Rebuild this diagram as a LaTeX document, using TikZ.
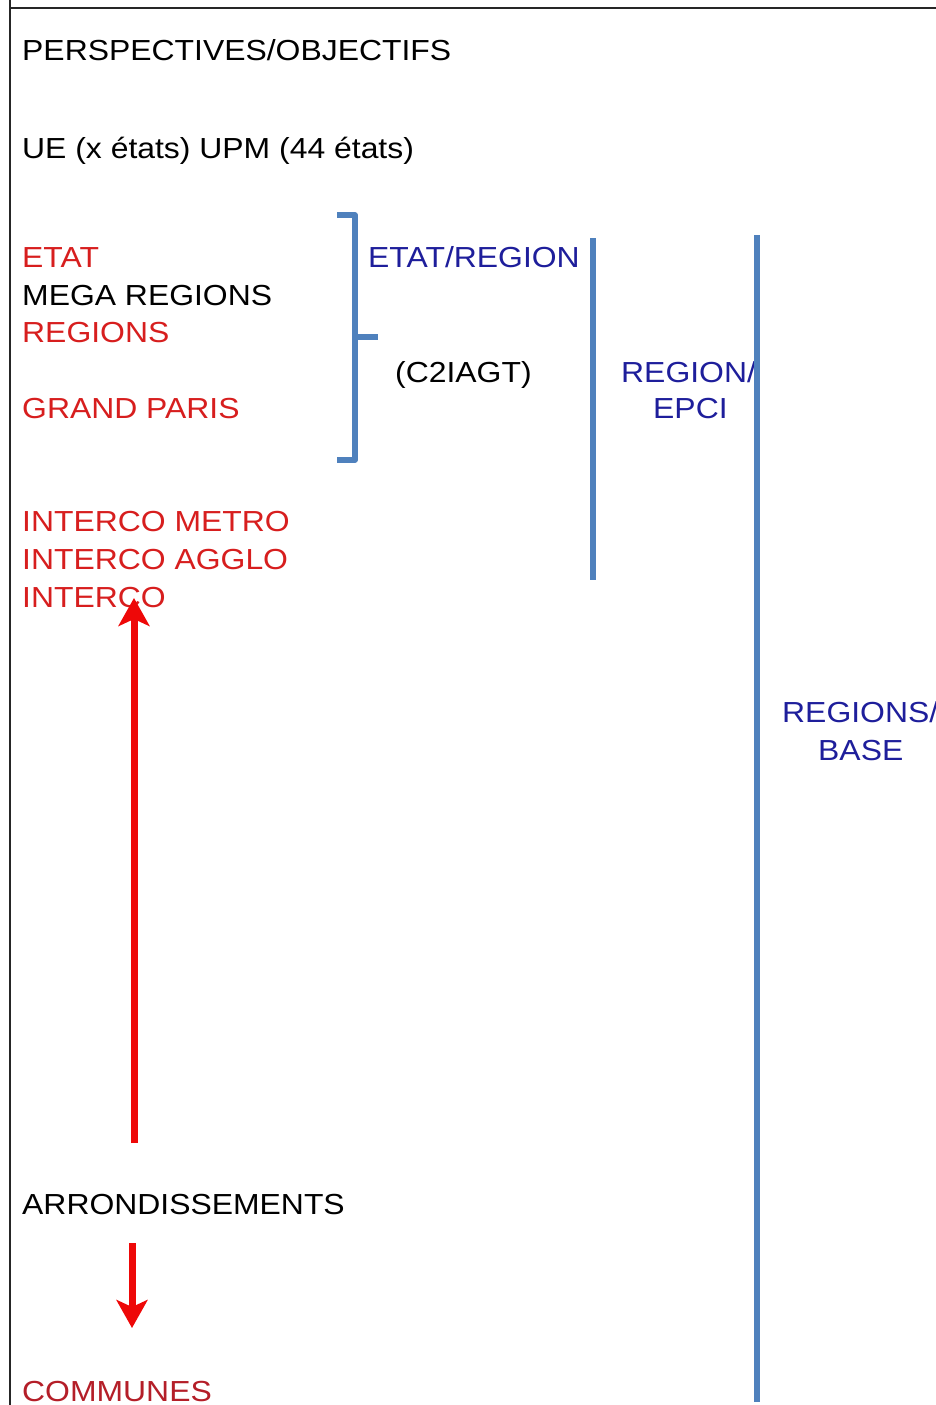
\documentclass[tikz,border=0pt]{standalone}
\usepackage{fontspec}
\setmainfont[FakeStretch=1.10]{Liberation Sans}
\usetikzlibrary{arrows.meta}
\definecolor{txtred}{RGB}{215,30,30}
\definecolor{darkred}{RGB}{180,30,40}
\definecolor{navy}{RGB}{30,30,155}
\definecolor{steel}{RGB}{79,129,189}
\definecolor{arrred}{RGB}{238,8,8}
\tikzset{
  lbl/.style={anchor=base west, inner sep=0pt, font=\fontsize{29}{34}\selectfont},
  bar/.style={draw=steel, line width=5.5pt},
  redarrow/.style={draw=arrred, line width=7pt, -{Stealth[length=28pt,width=31pt,inset=7pt]}},
  frame/.style={draw=black!85, line width=1.8pt}
}
\begin{document}
\begin{tikzpicture}[x=1pt,y=-1pt]
\useasboundingbox (0,0) rectangle (936,1405);
\clip (0,0) rectangle (936,1405);
% frame
\coordinate (ftl) at (10,8);
\coordinate (ftr) at (940,8);
\coordinate (fbl) at (10,1410);
\coordinate (ftop) at (10,-5);
\draw[frame] (ftr) -- (ftl);
\draw[frame, line width=1.4pt] (ftop) -- (fbl);
% left texts
\node[lbl] (persp) at (22,60) {PERSPECTIVES/OBJECTIFS};
\node[lbl] (ue) at (22,158) {UE (x états) UPM (44 états)};
\node[lbl, text=txtred] (etat) at (22,267) {ETAT};
\node[lbl] (mega) at (22,305) {MEGA REGIONS};
\node[lbl, text=txtred] (regions) at (22,342) {REGIONS};
\node[lbl, text=txtred] (gp) at (22,418) {GRAND PARIS};
\node[lbl, text=txtred] (imetro) at (22,531) {INTERCO METRO};
\node[lbl, text=txtred] (iagglo) at (22,569) {INTERCO AGGLO};
\node[lbl, text=txtred] (interco) at (22,607) {INTERCO};
\node[lbl] (arr) at (22,1214) {ARRONDISSEMENTS};
\node[lbl, text=darkred] (communes) at (22,1401) {COMMUNES};
% middle texts
\node[lbl, text=navy] (etatreg) at (368,267) {ETAT/REGION};
\node[lbl] (c2) at (395,382) {(C2IAGT)};
\node[lbl, text=navy] (regepci) at (621,382) {REGION/};
\node[lbl, text=navy] (epci) at (653,418) {EPCI};
\node[lbl, text=navy] (regbase) at (782,722) {REGIONS/};
\node[lbl, text=navy] (base) at (818,760) {BASE};
% bracket
\coordinate (bt0) at (337,215);
\coordinate (bt1) at (355,215);
\coordinate (bb1) at (355,460);
\coordinate (bb0) at (337,460);
\coordinate (bm0) at (355,337);
\coordinate (bm1) at (378,337);
\draw[bar, line join=round] (bt0) -- (bt1) -- (bb1) -- (bb0);
\draw[bar] (bm0) -- (bm1);
% vertical bars
\coordinate (v1t) at (593,238);
\coordinate (v1b) at (593,580);
\coordinate (v2t) at (757,235);
\coordinate (v2b) at (757,1402);
\draw[bar] (v1t) -- (v1b);
\draw[bar] (v2t) -- (v2b);
% red arrows
\coordinate (upstart) at (134,1143);
\coordinate (uptip) at (134,598);
\draw[redarrow] (upstart) -- (uptip);
\coordinate (dnstart) at (132,1243);
\coordinate (dntip) at (132,1328);
\draw[redarrow] (dnstart) -- (dntip);
\end{tikzpicture}
\end{document}
